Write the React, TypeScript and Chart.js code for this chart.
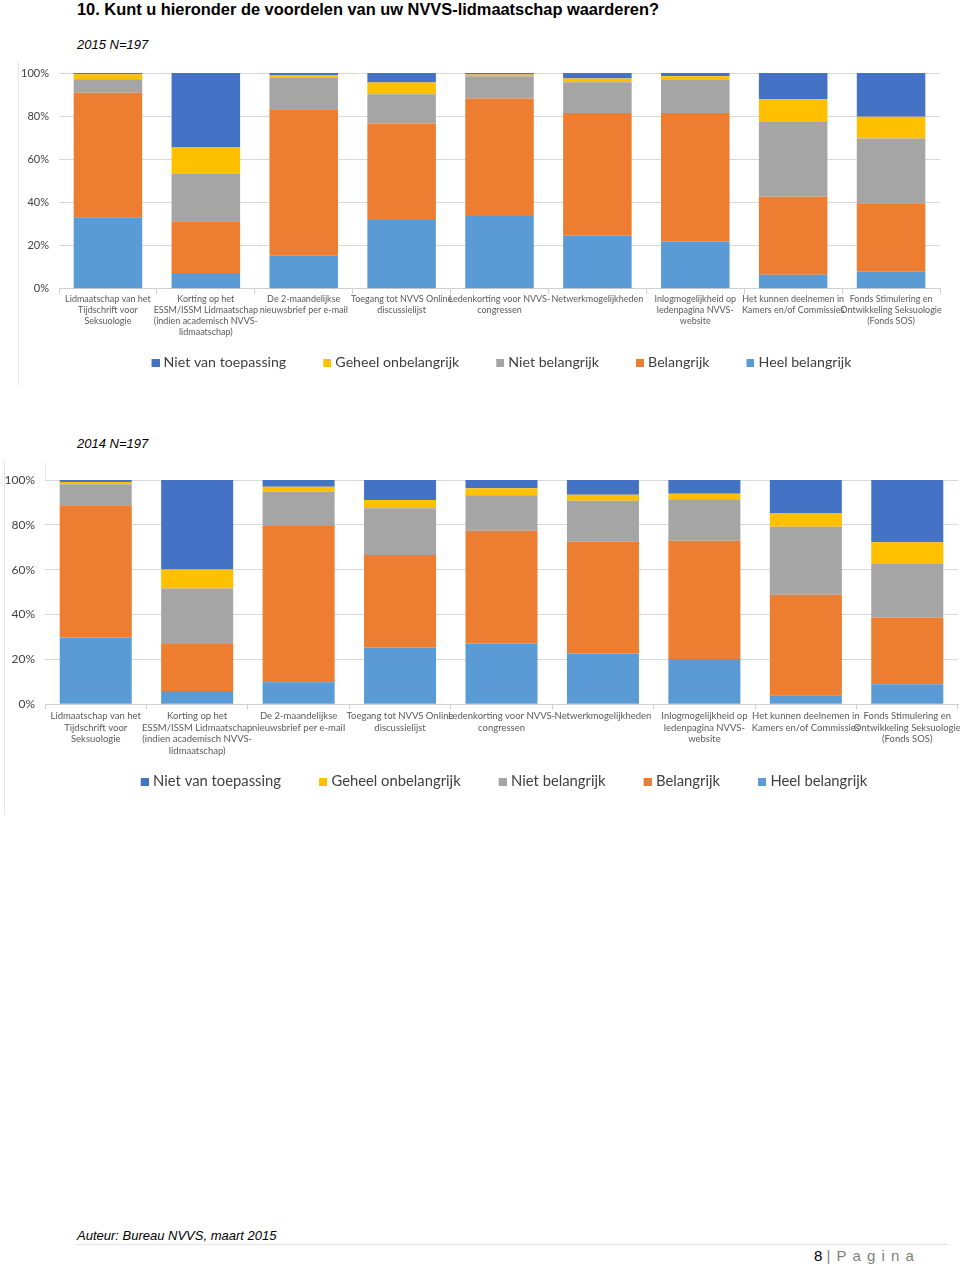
import React, { useEffect, useRef } from "react";
import { Chart, registerables } from "chart.js";

Chart.register(...registerables);

// ---------- data ----------
const categories: string[][] = [
  ["Lidmaatschap van het", "Tijdschrift voor", "Seksuologie"],
  ["Korting op het", "ESSM/ISSM Lidmaatschap", "(indien academisch NVVS-", "lidmaatschap)"],
  ["De 2-maandelijkse", "nieuwsbrief per e-mail"],
  ["Toegang tot NVVS Online", "discussielijst"],
  ["Ledenkorting voor NVVS-", "congressen"],
  ["Netwerkmogelijkheden"],
  ["Inlogmogelijkheid op", "ledenpagina NVVS-", "website"],
  ["Het kunnen deelnemen in", "Kamers en/of Commissies"],
  ["Fonds Stimulering en", "Ontwikkeling Seksuologie", "(Fonds SOS)"],
];

// stacking order bottom -> top
const seriesNames = ["Heel belangrijk", "Belangrijk", "Niet belangrijk", "Geheel onbelangrijk", "Niet van toepassing"];
const seriesColors = ["#5B9BD5", "#ED7D31", "#A5A5A5", "#FFC000", "#4472C4"];

const yTicks = [0, 20, 40, 60, 80, 100];

// 2015 (percentages)
const heel2015 = [33.1, 7.3, 15.3, 31.9, 33.7, 24.6, 21.9, 6.5, 7.9];
const belangrijk2015 = [57.8, 24.0, 67.9, 44.7, 54.5, 56.9, 59.6, 36.2, 31.7];
const nietBelangrijk2015 = [6.2, 21.9, 14.5, 13.6, 10.3, 14.2, 15.3, 34.6, 30.1];
const geheelOnbelangrijk2015 = [2.3, 12.3, 1.4, 5.4, 0.8, 1.7, 1.7, 10.5, 10.0];
const nietVanToepassing2015 = [0.6, 34.5, 0.9, 4.4, 0.7, 2.6, 1.5, 12.2, 20.3];

// 2014 (percentages)
const heel2014 = [29.8, 5.9, 9.8, 25.3, 27.1, 22.6, 20.2, 4.0, 8.9];
const belangrijk2014 = [58.9, 20.9, 69.7, 41.2, 50.3, 49.9, 52.7, 44.8, 29.8];
const nietBelangrijk2014 = [9.4, 24.8, 15.3, 20.9, 15.8, 18.3, 18.5, 30.4, 23.8];
const geheelOnbelangrijk2014 = [1.0, 8.5, 2.2, 3.7, 3.1, 2.6, 2.5, 6.1, 9.7];
const nietVanToepassing2014 = [0.9, 39.9, 3.0, 8.9, 3.7, 6.6, 6.1, 14.7, 27.8];

const series2015 = [heel2015, belangrijk2015, nietBelangrijk2015, geheelOnbelangrijk2015, nietVanToepassing2015];
const series2014 = [heel2014, belangrijk2014, nietBelangrijk2014, geheelOnbelangrijk2014, nietVanToepassing2014];

type Cfg = {
  left: number;
  top: number;
  width: number;
  height: number;
  padTop: number;
  padRight: number;
  yAxisWidth: number;
  xAxisHeight: number;
  yFontSize: number;
  xFontSize: number;
  xPadding: number;
  legendFontSize: number;
  legendPadding: number;
  legendSymbolWidth: number;
  legendShift: number;
  barPercentage: number;
};

// legend symbol: 8px square at the right end of a wider transparent strip
// (image is 6px wider than the legend box so the square sits close to its text)
function legendSymbol(color: string, boxWidth: number): HTMLCanvasElement {
  const c = document.createElement("canvas");
  const w = boxWidth + 6;
  c.width = w;
  c.height = 8;
  const ctx = c.getContext("2d") as CanvasRenderingContext2D;
  ctx.fillStyle = color;
  ctx.fillRect(w - 8, 0, 8, 8);
  return c;
}

function StackedChart({ series, cfg }: { series: number[][]; cfg: Cfg }) {
  const ref = useRef<HTMLCanvasElement>(null);
  useEffect(() => {
    const chart = new Chart(ref.current as HTMLCanvasElement, {
      type: "bar",
      data: {
        labels: categories,
        datasets: seriesNames.map((name, i) => ({
          label: name,
          data: series[i],
          backgroundColor: seriesColors[i],
          borderWidth: 0,
          barPercentage: cfg.barPercentage,
          categoryPercentage: 1,
          pointStyle: legendSymbol(seriesColors[i], cfg.legendSymbolWidth),
        })),
      },
      plugins: [
        {
          id: "legendShift",
          afterLayout: (c: any) => {
            if (c.legend) c.legend.left -= cfg.legendShift;
          },
        },
      ],
      options: {
        animation: false,
        responsive: true,
        maintainAspectRatio: false,
        layout: { padding: { top: cfg.padTop, right: cfg.padRight, left: 0, bottom: 0 } },
        plugins: {
          tooltip: { enabled: false },
          legend: {
            position: "bottom",
            fullSize: false,
            reverse: true,
            labels: {
              usePointStyle: true,
              pointStyleWidth: cfg.legendSymbolWidth,
              boxHeight: 8,
              padding: cfg.legendPadding,
              color: "#404040",
              font: { family: "Lato", size: cfg.legendFontSize },
            },
          },
        },
        scales: {
          x: {
            stacked: true,
            grid: {
              drawOnChartArea: false,
              drawTicks: true,
              tickLength: 5,
              color: "#d0d0d0",
            },
            border: { color: "#d0d0d0" },
            ticks: {
              autoSkip: false,
              maxRotation: 0,
              minRotation: 0,
              padding: cfg.xPadding,
              color: "#595959",
              font: { family: "Lato", size: cfg.xFontSize, lineHeight: 1.23 },
            },
            afterFit: (s: any) => {
              s.height = cfg.xAxisHeight;
              s.paddingLeft = 0;
              s.paddingRight = 0;
            },
          },
          y: {
            stacked: true,
            min: 0,
            max: 100,
            afterBuildTicks: (s: any) => {
              s.ticks = yTicks.map((v) => ({ value: v }));
            },
            grid: { drawTicks: false, color: "#d9d9d9" },
            border: { display: false },
            ticks: {
              padding: 10,
              color: "#404040",
              font: { family: "Lato", size: cfg.yFontSize },
              callback: (v: any) => `${v}%`,
            },
            afterFit: (s: any) => {
              s.width = cfg.yAxisWidth;
              s.paddingTop = 0;
              s.paddingBottom = 0;
            },
          },
        },
      },
    });
    return () => chart.destroy();
  }, []);
  return (
    <div
      style={{
        position: "absolute",
        left: cfg.left,
        top: cfg.top,
        width: cfg.width,
        height: cfg.height,
      }}
    >
      <canvas ref={ref} />
    </div>
  );
}

const cfg2015: Cfg = {
  left: 0,
  top: 60,
  width: 945,
  height: 320,
  padTop: 13,
  padRight: 5,
  yAxisWidth: 59,
  xAxisHeight: 52,
  yFontSize: 11,
  xFontSize: 9,
  xPadding: 0,
  legendFontSize: 14.2,
  legendPadding: 15,
  legendSymbolWidth: 27,
  legendShift: 18,
  barPercentage: 0.7,
};

const cfg2014: Cfg = {
  left: 0,
  top: 460,
  width: 960,
  height: 339,
  padTop: 20,
  padRight: 2,
  yAxisWidth: 45,
  xAxisHeight: 54,
  yFontSize: 12,
  xFontSize: 9.5,
  xPadding: 1,
  legendFontSize: 14.8,
  legendPadding: 16,
  legendSymbolWidth: 27,
  legendShift: 17,
  barPercentage: 0.71,
};

const textBase: React.CSSProperties = {
  position: "absolute",
  fontFamily: "'Liberation Sans', Arial, sans-serif",
  whiteSpace: "nowrap",
  margin: 0,
};

export default function App() {
  return (
    <div style={{ position: "absolute", left: 0, top: 0, width: 960, height: 1267, background: "#fff", overflow: "hidden" }}>
      <div style={{ ...textBase, left: 77, top: 0, fontSize: 16.4, fontWeight: "bold", lineHeight: "19px", color: "#000" }}>
        10. Kunt u hieronder de voordelen van uw NVVS-lidmaatschap waarderen?
      </div>
      <div style={{ ...textBase, left: 77, top: 37, fontSize: 13, fontStyle: "italic", lineHeight: "16px", color: "#000" }}>
        2015 N=197
      </div>
      <div style={{ position: "absolute", left: 18, top: 62, width: 0, height: 323, borderLeft: "1px solid #e6e6e6" }} />
      <StackedChart series={series2015} cfg={cfg2015} />

      <div style={{ ...textBase, left: 77, top: 436, fontSize: 13, fontStyle: "italic", lineHeight: "16px", color: "#000" }}>
        2014 N=197
      </div>
      <div style={{ position: "absolute", left: 4, top: 461, width: 0, height: 354, borderLeft: "1px solid #e6e6e6" }} />
      <div style={{ position: "absolute", left: 45, top: 463, width: 0, height: 17, borderLeft: "1px solid #e6e6e6" }} />
      <StackedChart series={series2014} cfg={cfg2014} />

      <div style={{ ...textBase, left: 77, top: 1228, fontSize: 13, fontStyle: "italic", lineHeight: "16px", color: "#000" }}>
        Auteur: Bureau NVVS, maart 2015
      </div>
      <div style={{ position: "absolute", left: 77, top: 1244, width: 871, height: 0, borderTop: "1px solid #e3e3e3" }} />
      <div style={{ ...textBase, left: 814, top: 1247, fontSize: 15, lineHeight: "18px", color: "#000" }}>
        8 <span style={{ color: "#7f7f7f", letterSpacing: "1px" }}>| P a g i n a</span>
      </div>
    </div>
  );
}
